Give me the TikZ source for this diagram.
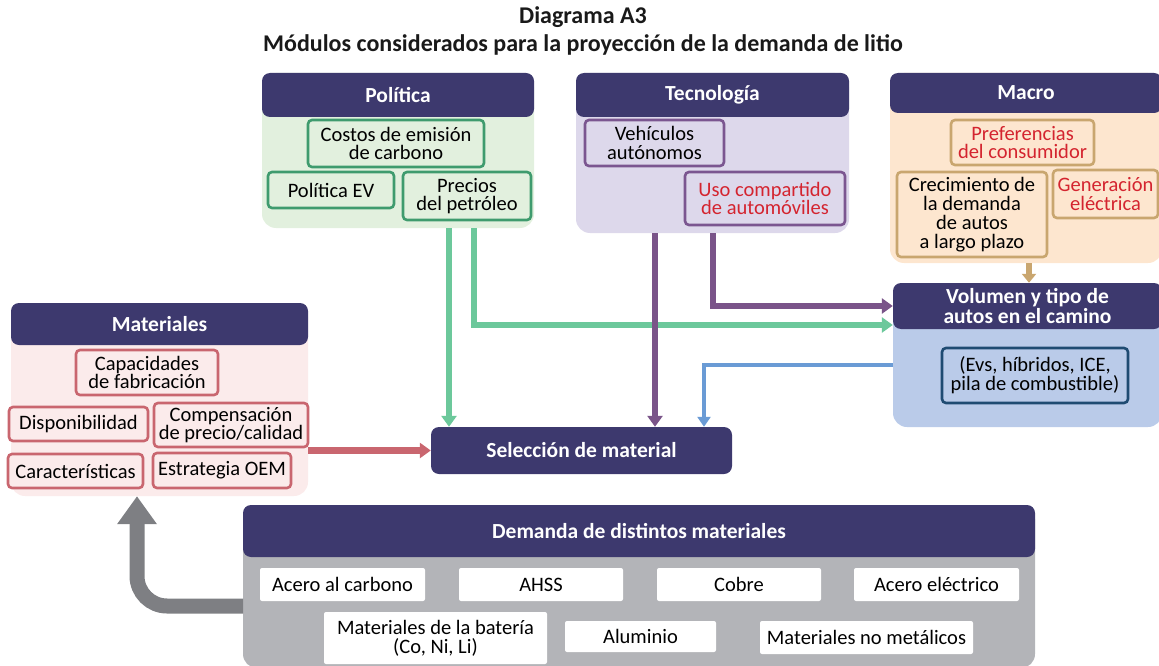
\documentclass[tikz,border=0pt]{standalone}
\usepackage{fontspec}
\setmainfont{Carlito}
\usetikzlibrary{arrows.meta}

\definecolor{navy}{HTML}{3D396E}
\definecolor{polbg}{HTML}{E2F0DE}
\definecolor{polline}{HTML}{3F9B6E}
\definecolor{grnarr}{HTML}{6CC89B}
\definecolor{tecbg}{HTML}{DDD8EB}
\definecolor{tecline}{HTML}{7B5690}
\definecolor{purarr}{HTML}{7A5489}
\definecolor{macbg}{HTML}{FDE6CF}
\definecolor{macline}{HTML}{C9A66F}
\definecolor{volbg}{HTML}{BACBE9}
\definecolor{volline}{HTML}{1F4B72}
\definecolor{bluarr}{HTML}{6A9BD5}
\definecolor{matbg}{HTML}{FBEBEB}
\definecolor{matline}{HTML}{C9666F}
\definecolor{dembg}{HTML}{B3B4B8}
\definecolor{redtxt}{HTML}{D4242F}
\definecolor{grayarr}{HTML}{7E7F83}

\newcommand{\boxfont}{\fontsize{20.5}{18.8}\selectfont}
\newcommand{\hdrfont}{\fontsize{21.5}{20}\selectfont\bfseries}
\newcommand{\titlefont}{\fontsize{24}{28}\selectfont\bfseries}

\tikzset{
	panel/.style={rounded corners=14pt, inner sep=0pt},
	hdr/.style={fill=navy, rounded corners=8pt, text=white, font=\hdrfont, align=center, inner sep=0pt},
	item/.style={draw, line width=2.6pt, rounded corners=4pt, align=center, inner sep=0pt, font=\boxfont},
	cell/.style={fill=white, rounded corners=2pt, align=center, inner sep=0pt, font=\boxfont},
	flow/.style={line width=6.5pt, -{Triangle[width=15pt,length=11pt]}},
}

\begin{document}
\begin{tikzpicture}[x=1pt, y=-1pt]
	\useasboundingbox (0,0) rectangle (1159,666);
	\node[font=\titlefont, align=center, text=black!90] (title) at (583,31) {Diagrama A3\\Módulos considerados para la proyección de la demanda de litio};

	% panels
	\node[panel, fill=polbg, minimum width=272pt, minimum height=155pt] (polbody) at (398,150.5) {};
	\node[hdr, minimum width=272pt, minimum height=44pt] (pol) at (398,95) {Política};
	\node[panel, fill=tecbg, minimum width=273pt, minimum height=160pt] (tecbody) at (712.5,153) {};
	\node[hdr, minimum width=273pt, minimum height=44pt] (tec) at (712.5,95) {Tecnología};
	\node[panel, fill=macbg, minimum width=272pt, minimum height=190pt] (macbody) at (1026,168) {};
	\node[hdr, minimum width=272pt, minimum height=40pt] (mac) at (1026,93) {Macro};
	\node[panel, fill=volbg, minimum width=269pt, minimum height=144pt] (volbody) at (1027.5,355) {};
	\node[hdr, minimum width=269pt, minimum height=46pt] (vol) at (1027.5,306) {Volumen y tipo de\\autos en el camino};
	\node[panel, fill=matbg, minimum width=297pt, minimum height=193pt] (matbody) at (159.5,399.5) {};
	\node[hdr, minimum width=297pt, minimum height=42pt] (mat) at (159.5,324) {Materiales};
	\node[panel, fill=dembg, minimum width=792pt, minimum height=163pt] (dembody) at (639,586.5) {};
	\node[hdr, minimum width=792pt, minimum height=52pt] (dem) at (639,531) {Demanda de distintos materiales};
	\node[hdr, minimum width=301pt, minimum height=47pt] (sel) at (581.5,450.5) {Selección de material};

	% Politica
	\node[item, draw=polline, fill=polbg, minimum width=176pt, minimum height=47pt] (costos) at (396,143.5) {Costos de emisión\\de carbono};
	\node[item, draw=polline, fill=polbg, minimum width=126pt, minimum height=36pt] (polev) at (331,190) {Política EV};
	\node[item, draw=polline, fill=polbg, minimum width=128pt, minimum height=48pt] (precios) at (467,196) {Precios\\del petróleo};

	% Tecnologia
	\node[item, draw=tecline, fill=tecbg, minimum width=139pt, minimum height=46pt] (autonomos) at (654.5,143) {Vehículos\\autónomos};
	\node[item, draw=tecline, fill=tecbg, minimum width=160pt, minimum height=53pt, text=redtxt] (compartido) at (765,198.5) {Uso compartido\\de automóviles};

	% Macro
	\node[item, draw=macline, fill=macbg, minimum width=143pt, minimum height=45pt, text=redtxt] (prefs) at (1022.5,142.5) {Preferencias\\del consumidor};
	\node[item, draw=macline, fill=macbg, minimum width=150pt, minimum height=85pt] (crec) at (972,214.5) {Crecimiento de\\la demanda\\de autos\\a largo plazo};
	\node[item, draw=macline, fill=macbg, minimum width=105pt, minimum height=48pt, text=redtxt] (gen) at (1105.5,194) {Generación\\eléctrica};

	% Volumen
	\node[item, draw=volline, fill=volbg, minimum width=186pt, minimum height=55pt] (tipos) at (1035,375.5) {(Evs, híbridos, ICE,\\pila de combustible)};

	% Materiales
	\node[item, draw=matline, fill=matbg, minimum width=142pt, minimum height=45pt] (capac) at (147,372.5) {Capacidades\\de fabricación};
	\node[item, draw=matline, fill=matbg, minimum width=139pt, minimum height=34pt] (dispon) at (78.5,424) {Disponibilidad};
	\node[item, draw=matline, fill=matbg, minimum width=154pt, minimum height=44pt] (compens) at (231,425) {Compensación\\de precio/calidad};
	\node[item, draw=matline, fill=matbg, minimum width=135pt, minimum height=34pt] (caract) at (75.5,471) {Características};
	\node[item, draw=matline, fill=matbg, minimum width=138pt, minimum height=35pt] (estrat) at (222,470.5) {Estrategia OEM};

	% Demanda
	\node[cell, minimum width=165pt, minimum height=33pt] (acero) at (342.5,584.5) {Acero al carbono};
	\node[cell, minimum width=164pt, minimum height=33pt] (ahss) at (541,584.5) {AHSS};
	\node[cell, minimum width=164pt, minimum height=33pt] (cobre) at (739,584.5) {Cobre};
	\node[cell, minimum width=165pt, minimum height=33pt] (aceroel) at (936.5,584.5) {Acero eléctrico};
	\node[cell, minimum width=223pt, minimum height=52pt] (bateria) at (435.5,638) {Materiales de la batería\\(Co, Ni, Li)};
	\node[cell, minimum width=151pt, minimum height=31pt] (alum) at (640.5,636.5) {Aluminio};
	\node[cell, minimum width=213pt, minimum height=33pt] (nometal) at (866.5,637.5) {Materiales no metálicos};

	% connectors
	\coordinate (g1) at (449,228);
	\coordinate (g2) at (474,228);
	\coordinate (p1) at (655,233);
	\coordinate (p2) at (713,233);
	\coordinate (b1) at (893,365);
	\coordinate (m1) at (1029,263);
	\coordinate (d1) at (243,606);
	\draw[flow, grnarr] (g1) -- (g1 |- sel.north);
	\draw[flow, grnarr] (g2) |- ([yshift=-19pt]vol.west);
	\draw[flow, purarr] (p1) -- (p1 |- sel.north);
	\draw[flow, purarr] (p2) |- (vol.west);
	\draw[bluarr, line width=4.5pt, -{Triangle[width=13pt,length=10pt]}] (b1) -| ([xshift=122.5pt]sel.north);
	\draw[flow, matline] (matbody.east |- sel.west) -- (sel.west);
	\draw[macline, line width=6pt, -{Triangle[width=14pt,length=9pt]}] (m1) -- (m1 |- vol.north);
	\draw[grayarr, line width=15pt, rounded corners=30pt, -{Triangle[width=38pt,length=28pt]}] (d1) -| ([xshift=-22.5pt]matbody.south);
\end{tikzpicture}
\end{document}
